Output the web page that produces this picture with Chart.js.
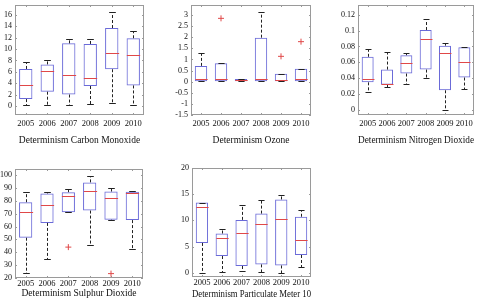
<!DOCTYPE html>
<html>
<head>
<meta charset="utf-8">
<script src="https://cdn.jsdelivr.net/npm/chart.js@4.4.1/dist/chart.umd.min.js"></script>
<style>
  body { margin: 0; background: #fff; width: 483px; height: 298px; overflow: hidden; position: relative; }
  canvas { position: absolute; left: 0; top: 0; }
</style>
</head>
<body>
<canvas id="co" width="483" height="310"></canvas>
<canvas id="o3" width="483" height="310"></canvas>
<canvas id="no2" width="483" height="310"></canvas>
<canvas id="so2" width="483" height="310"></canvas>
<canvas id="pm10" width="483" height="310"></canvas>
<script>
const years = ["2005", "2006", "2007", "2008", "2009", "2010"];

// Carbon Monoxide
const coLow = [0.1, 0.1, 0.1, 0.3, 0.5, 0.2];
const coQ1 = [1.2, 2.5, 2.0, 3.5, 6.45, 3.6];
const coMed = [3.6, 6.2, 5.5, 4.9, 9.3, 8.9];
const coQ3 = [6.5, 7.3, 11.0, 10.9, 13.7, 11.9];
const coHigh = [7.8, 8.0, 11.7, 11.8, 16.5, 13.2];
const coOut = [null, null, null, null, null, null];
const coTicks = [0, 2, 4, 6, 8, 10, 12, 14, 16];

// Ozone
const o3Low = [0.02, 0.02, 0.02, 0.02, 0.02, 0.02];
const o3Q1 = [0.02, 0.02, 0.02, 0.02, 0.02, 0.02];
const o3Med = [0.1, 0.1, 0.06, 0.1, 0.06, 0.1];
const o3Q3 = [0.71, 0.83, 0.12, 1.98, 0.36, 0.58];
const o3High = [1.28, 0.83, 0.12, 3.15, 0.36, 0.58];
const o3Out = [null, 2.85, null, null, 1.14, 1.8];
const o3Ticks = [-1.5, -1, -0.5, 0, 0.5, 1, 1.5, 2, 2.5, 3];

// Nitrogen Dioxide
const no2Low = [0.023, 0.029, 0.033, 0.041, 0.0, 0.026];
const no2Q1 = [0.035, 0.032, 0.046, 0.051, 0.025, 0.041];
const no2Med = [0.039, 0.033, 0.059, 0.0897, 0.072, 0.06];
const no2Q3 = [0.067, 0.051, 0.069, 0.1006, 0.081, 0.079];
const no2High = [0.0766, 0.073, 0.072, 0.115, 0.084, 0.079];
const no2Out = [null, null, null, null, null, null];
const no2Ticks = [0, 0.02, 0.04, 0.06, 0.08, 0.1, 0.12];

// Sulphur Dioxide
const so2Low = [23.9, 35.1, 71.0, 46.0, 65.3, 42.9];
const so2Q1 = [51.3, 62.8, 71.0, 72.4, 65.3, 65.0];
const so2Med = [71.6, 76.8, 84.1, 87.8, 81.8, 85.7];
const so2Q3 = [78.9, 85.7, 86.7, 94.3, 87.2, 87.0];
const so2High = [86.5, 87.2, 88.8, 99.0, 89.8, 87.7];
const so2Out = [null, null, 44.0, null, 23.4, null];
const so2Ticks = [20, 30, 40, 50, 60, 70, 80, 90, 100];

// Particulate Meter 10
const pmLow = [0.0, 0.1, 0.25, 0.1, 0.0, 1.1];
const pmQ1 = [5.7, 3.2, 1.3, 1.6, 1.4, 3.4];
const pmMed = [12.5, 6.6, 7.6, 9.4, 10.3, 6.2];
const pmQ3 = [13.4, 7.5, 10.1, 11.3, 14.0, 10.7];
const pmHigh = [13.4, 8.3, 12.9, 13.9, 14.8, 11.9];
const pmOut = [null, null, null, null, null, null];
const pmTicks = [0, 5, 10, 15, 20];

const BOX = "#6a6ad8";
const MED = "#e04848";
const FONT = "'Liberation Serif', 'DejaVu Serif', serif";

const boxParts = {
  id: "boxParts",
  beforeDatasetsDraw(chart) {
    const { ctx, chartArea: a } = chart;
    ctx.save();
    ctx.strokeStyle = "#9a9a9a";
    ctx.lineWidth = 1;
    ctx.strokeRect(Math.round(a.left) + 0.5, Math.round(a.top) + 0.5,
      Math.round(a.right - a.left) - 1, Math.round(a.bottom - a.top) - 1);
    // small inward ticks like the original
    const y = chart.scales.y, x = chart.scales.x;
    ctx.beginPath();
    y.ticks.forEach((t, i) => {
      const py = Math.round(y.getPixelForTick(i)) + 0.5;
      ctx.moveTo(a.left, py); ctx.lineTo(a.left + 2, py);
      ctx.moveTo(a.right, py); ctx.lineTo(a.right - 2, py);
    });
    x.ticks.forEach((t, i) => {
      const px = Math.round(x.getPixelForTick(i)) + 0.5;
      ctx.moveTo(px, a.bottom); ctx.lineTo(px, a.bottom - 2);
      ctx.moveTo(px, a.top); ctx.lineTo(px, a.top + 2);
    });
    ctx.stroke();
    ctx.restore();
  },
  afterDatasetsDraw(chart, args, opts) {
    const { ctx } = chart;
    const y = chart.scales.y;
    const meta = chart.getDatasetMeta(0);
    const s = opts.stats;
    const line = (x1, y1, x2, y2) => {
      ctx.beginPath(); ctx.moveTo(x1, y1); ctx.lineTo(x2, y2); ctx.stroke();
    };
    ctx.save();
    ctx.lineWidth = 1;
    meta.data.forEach((bar, i) => {
      const cx = Math.round(bar.x) + 0.5;
      const half = bar.width / 2, cap = bar.width / 4;
      const yLo = Math.round(y.getPixelForValue(s.low[i])) + 0.5;
      const yQ1 = y.getPixelForValue(s.q1[i]);
      const yMed = Math.round(y.getPixelForValue(s.med[i])) + 0.5;
      const yQ3 = y.getPixelForValue(s.q3[i]);
      const yHi = Math.round(y.getPixelForValue(s.high[i])) + 0.5;
      ctx.strokeStyle = "#222";
      ctx.setLineDash([3, 2]);
      if (yHi < yQ3) line(cx, yQ3, cx, yHi);
      if (yLo > yQ1) line(cx, yQ1, cx, yLo);
      ctx.setLineDash([]);
      line(cx - cap, yHi, cx + cap, yHi);
      line(cx - cap, yLo, cx + cap, yLo);
      ctx.strokeStyle = MED;
      line(cx - half, yMed, cx + half, yMed);
    });
    ctx.restore();
  }
};

function boxChart(id, title, st, ticks, box) {
  const lh = 9.5;
  const yW = Math.min(box.left, 40);
  const xH = box.titleY - box.bottom + lh / 2;
  return new Chart(document.getElementById(id), {
    type: "bar",
    data: {
      labels: years,
      datasets: [
        {
          data: st.q1.map((v, i) => [v, st.q3[i]]),
          backgroundColor: "rgba(0,0,0,0)",
          borderColor: BOX,
          borderWidth: 1,
          borderSkipped: false,
          barPercentage: 0.62,
          categoryPercentage: 1,
        },
        {
          type: "line",
          data: st.out,
          showLine: false,
          pointStyle: "cross",
          pointRadius: 3,
          borderColor: MED,
          borderWidth: 1,
        },
      ],
    },
    options: {
      responsive: false,
      animation: false,
      layout: {
        padding: { left: box.left - yW, right: 483 - box.right, top: box.top, bottom: 310 - box.bottom - xH },
      },
      plugins: {
        legend: { display: false },
        tooltip: { enabled: false },
        boxParts: { stats: st },
      },
      scales: {
        x: {
          grid: { display: false, drawTicks: false },
          border: { display: false },
          ticks: {
            color: "#111", padding: box.tickPad, maxRotation: 0, minRotation: 0, autoSkip: false,
            font: { family: FONT, size: 8.5 },
          },
          title: { display: true, text: title, color: "#111", padding: 0, font: { family: FONT, size: 9.5, lineHeight: 1 } },
          afterFit: (sc) => { sc.height = xH; sc.paddingLeft = 0; sc.paddingRight = 0; },
        },
        y: {
          min: box.min,
          max: box.max,
          grid: { display: false, drawTicks: false },
          border: { display: false },
          afterBuildTicks: (sc) => { sc.ticks = ticks.map((v) => ({ value: v })); },
          ticks: {
            color: "#111", padding: 3, autoSkip: false,
            font: { family: FONT, size: 8 }, callback: (v) => String(v),
          },
          afterFit: (sc) => { sc.width = yW; sc.paddingTop = 0; sc.paddingBottom = 0; },
        },
      },
    },
    plugins: [boxParts],
  });
}

boxChart("co", "Determinism Carbon Monoxide",
  { low: coLow, q1: coQ1, med: coMed, q3: coQ3, high: coHigh, out: coOut }, coTicks,
  { left: 15, right: 144, top: 5, bottom: 115, min: -1.6, max: 17.75, tickPad: 4, titleY: 140 });
boxChart("o3", "Determinism Ozone",
  { low: o3Low, q1: o3Q1, med: o3Med, q3: o3Q3, high: o3High, out: o3Out }, o3Ticks,
  { left: 191, right: 311, top: 5, bottom: 115, min: -1.5, max: 3.45, tickPad: 4, titleY: 140 });
boxChart("no2", "Determinism Nitrogen Dioxide",
  { low: no2Low, q1: no2Q1, med: no2Med, q3: no2Q3, high: no2High, out: no2Out }, no2Ticks,
  { left: 358, right: 474, top: 5, bottom: 115, min: -0.006, max: 0.132, tickPad: 4, titleY: 140 });
boxChart("so2", "Determinism Sulphur Dioxide",
  { low: so2Low, q1: so2Q1, med: so2Med, q3: so2Q3, high: so2High, out: so2Out }, so2Ticks,
  { left: 15, right: 143, top: 169, bottom: 278, min: 20, max: 104.7, tickPad: 1, titleY: 293 });
boxChart("pm10", "Determinism Particulate Meter 10",
  { low: pmLow, q1: pmQ1, med: pmMed, q3: pmQ3, high: pmHigh, out: pmOut }, pmTicks,
  { left: 192, right: 311, top: 168, bottom: 277, min: -0.8, max: 20, tickPad: 1, titleY: 294 });
</script>
</body>
</html>
